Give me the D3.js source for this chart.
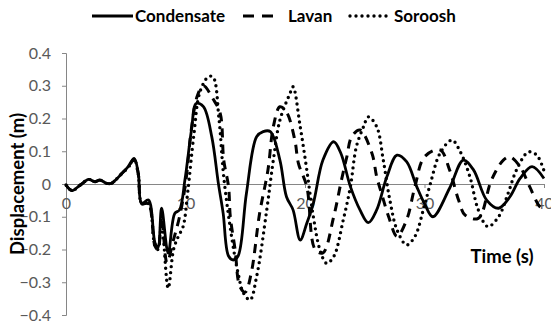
<!DOCTYPE html>
<html>
<head>
<meta charset="utf-8">
<script src="https://cdn.jsdelivr.net/npm/d3@7"></script>
<style>
body { margin: 0; background: #fff; }
text { font-family: Lato, "Liberation Sans", sans-serif; }
</style>
</head>
<body>
<div id="chart"></div>
<script>
// values, [time (s), displacement (m)]
const condensate = [
    [0, -0.003], [0.5, -0.02], [1.2, -0.003], [1.9, 0.014], [2.4, 0.007], [2.85, 0.012],
    [3.4, 0.002], [3.8, 0.002], [4.2, 0.014], [4.8, 0.037], [5.2, 0.053], [5.7, 0.078],
    [6.05, 0.033], [6.33, -0.059], [6.9, -0.049], [7.45, -0.18], [7.7, -0.193], [8.0, -0.074],
    [8.55, -0.211], [9.1, -0.09], [9.5, -0.079], [9.95, 0.012], [10.5, 0.165], [10.9, 0.246],
    [11.5, 0.236], [12.2, 0.144], [12.75, 0.002], [13.15, -0.089], [13.6, -0.22], [14.0, -0.232],
    [14.4, -0.22], [15.1, -0.028], [15.95, 0.144], [16.5, 0.16], [17.1, 0.16], [17.9, 0.073],
    [18.45, -0.039], [19.0, -0.079], [19.6, -0.171], [20.15, -0.12], [20.7, -0.059], [21.5, 0.073],
    [22.4, 0.129], [23.0, 0.094], [23.8, -0.008], [24.6, -0.079], [25.3, -0.118], [26.0, -0.079],
    [26.85, 0.022], [27.7, 0.088], [28.5, 0.068], [29.35, -0.008], [30.0, -0.06], [30.7, -0.1],
    [32.1, -0.013], [33.25, 0.073], [34.1, 0.043], [35.2, -0.049], [36.2, -0.074], [37.15, -0.039],
    [38.0, 0.017], [39.0, 0.053], [40.0, 0.017]
];
const lavan = [
    [0, -0.003], [0.5, -0.02], [1.2, -0.003], [1.9, 0.014], [2.4, 0.007], [2.85, 0.012],
    [3.4, 0.002], [3.8, 0.002], [4.2, 0.014], [4.8, 0.037], [5.2, 0.05], [5.7, 0.075],
    [6.05, 0.03], [6.35, -0.06], [6.9, -0.06], [7.45, -0.19], [7.7, -0.2], [8.0, -0.1],
    [8.45, -0.24], [9.0, -0.17], [9.5, -0.1], [10.0, 0.0], [10.5, 0.17], [11.0, 0.27],
    [11.5, 0.3], [12.3, 0.26], [12.9, 0.216], [13.2, 0.073], [13.6, -0.008], [13.75, -0.1],
    [14.15, -0.2], [14.55, -0.313], [15.0, -0.33], [15.5, -0.272], [16.2, -0.09], [16.9, 0.043],
    [17.35, 0.175], [17.9, 0.236], [18.45, 0.22], [19.15, 0.134], [19.45, 0.063], [20.15, -0.008],
    [20.85, -0.2], [21.5, -0.21], [22.4, -0.1], [23.05, 0.012], [23.5, 0.083], [23.9, 0.144],
    [24.6, 0.165], [25.6, 0.094], [26.0, 0.022], [26.4, -0.028], [27.0, -0.1], [27.7, -0.16],
    [28.5, -0.11], [29.2, -0.008], [30.0, 0.083], [31.3, 0.104], [32.1, 0.043], [32.85, -0.049],
    [33.4, -0.095], [34.5, -0.105], [35.6, 0.012], [36.6, 0.073], [37.15, 0.083], [38.0, 0.053],
    [38.8, -0.008], [39.65, -0.069], [40.0, -0.075]
];
const soroosh = [
    [0, -0.003], [0.5, -0.02], [1.2, -0.003], [1.9, 0.014], [2.4, 0.007], [2.85, 0.012],
    [3.4, 0.002], [3.8, 0.002], [4.2, 0.014], [4.8, 0.037], [5.2, 0.05], [5.7, 0.075],
    [6.05, 0.03], [6.35, -0.06], [6.9, -0.06], [7.45, -0.19], [7.7, -0.2], [8.0, -0.12],
    [8.55, -0.318], [9.0, -0.2], [9.4, -0.16], [9.8, -0.13], [10.2, -0.02], [10.7, 0.15],
    [11.2, 0.28], [11.9, 0.327], [12.3, 0.327], [12.8, 0.2], [13.2, 0.022], [13.9, -0.171],
    [14.4, -0.272], [14.85, -0.333], [15.4, -0.354], [15.95, -0.283], [16.8, -0.079], [17.35, 0.073],
    [17.9, 0.195], [18.75, 0.277], [19.0, 0.297], [19.6, 0.175], [20.15, 0.043], [20.7, -0.1],
    [21.25, -0.201], [21.8, -0.242], [22.4, -0.222], [23.2, -0.11], [23.8, -0.008], [24.3, 0.114],
    [24.9, 0.175], [25.3, 0.205], [26.0, 0.175], [26.55, 0.073], [27.1, -0.049], [27.7, -0.14],
    [28.5, -0.186], [29.2, -0.16], [29.9, -0.079], [30.5, 0.002], [31.3, 0.094], [32.3, 0.134],
    [33.0, 0.098], [33.8, 0.022], [34.5, -0.079], [35.3, -0.13], [36.2, -0.1], [37.0, -0.028],
    [37.7, 0.043], [38.7, 0.098], [39.4, 0.088], [40.0, 0.04]
];
const seriesNames = ["Condensate", "Lavan", "Soroosh"];
const xTicks = [0, 10, 20, 30, 40];
const yTicks = [-0.4, -0.3, -0.2, -0.1, 0, 0.1, 0.2, 0.3, 0.4];

const W = 551, H = 323;
const margin = {left: 66, right: 7, top: 53, bottom: 8};

const svg = d3.select("#chart").append("svg")
    .attr("width", W).attr("height", H);

const x = d3.scaleLinear().domain([0, 40]).range([margin.left, W - margin.right]);
const y = d3.scaleLinear().domain([-0.4, 0.4]).range([H - margin.bottom, margin.top]);

const axisCol = "#868686", labelCol = "#595959";

// y axis
const yAxis = svg.append("g")
    .attr("transform", `translate(${x(0)},0)`)
    .call(d3.axisLeft(y).tickValues(yTicks).tickSize(4).tickPadding(11)
        .tickFormat(d => d === 0 ? "0" : d3.format(".1f")(d)));
yAxis.select(".domain").attr("stroke", axisCol);
yAxis.selectAll(".tick line").attr("stroke", axisCol);
yAxis.selectAll("text").attr("fill", labelCol).style("font-size", "16px")
    .style("font-family", "Lato, sans-serif");

// x axis on the zero line
const xAxis = svg.append("g")
    .attr("transform", `translate(0,${y(0)})`)
    .call(d3.axisBottom(x).tickValues(xTicks).tickSize(4).tickPadding(10).tickSizeOuter(0));
xAxis.select(".domain").attr("stroke", axisCol);
xAxis.selectAll(".tick line").attr("stroke", axisCol);
xAxis.selectAll("text").attr("fill", labelCol).style("font-size", "16px")
    .style("font-family", "Lato, sans-serif");

const line = d3.line()
    .x(d => x(d[0]))
    .y(d => y(d[1]))
    .curve(d3.curveCatmullRom.alpha(0.5));

const styles = [
    {dash: null, width: 2.8, cap: "butt"},
    {dash: "9,7", width: 3, cap: "butt"},
    {dash: "0,6", width: 3.4, cap: "round"}
];
const allSeries = [condensate, lavan, soroosh];

allSeries.forEach((s, i) => {
    svg.append("path")
        .datum(s)
        .attr("fill", "none")
        .attr("stroke", "#000")
        .attr("stroke-width", styles[i].width)
        .attr("stroke-linecap", styles[i].cap)
        .attr("stroke-dasharray", styles[i].dash)
        .attr("stroke-linejoin", "round")
        .attr("d", line);
});

// axis titles
svg.append("text")
    .attr("transform", `translate(24,${y(0)}) rotate(-90)`)
    .attr("text-anchor", "middle")
    .style("font-size", "18.5px").style("font-weight", "bold")
    .text("Displacement (m)");

svg.append("text")
    .attr("x", 502).attr("y", 263)
    .attr("text-anchor", "middle")
    .style("font-size", "18.5px").style("font-weight", "bold")
    .text("Time (s)");

// legend
const legendPos = [{x1: 92, x2: 133, tx: 135}, {x1: 243, x2: 276, tx: 288}, {x1: 350, x2: 392, tx: 394}];
const legend = svg.append("g");
seriesNames.forEach((name, i) => {
    legend.append("line")
        .attr("x1", legendPos[i].x1).attr("x2", legendPos[i].x2)
        .attr("y1", 16).attr("y2", 16)
        .attr("stroke", "#000")
        .attr("stroke-width", styles[i].width)
        .attr("stroke-linecap", styles[i].cap)
        .attr("stroke-dasharray", i === 1 ? "11,8" : styles[i].dash);
    legend.append("text")
        .attr("x", legendPos[i].tx).attr("y", 22)
        .style("font-size", "17px").style("font-weight", "bold")
        .text(name);
});
</script>
</body>
</html>
